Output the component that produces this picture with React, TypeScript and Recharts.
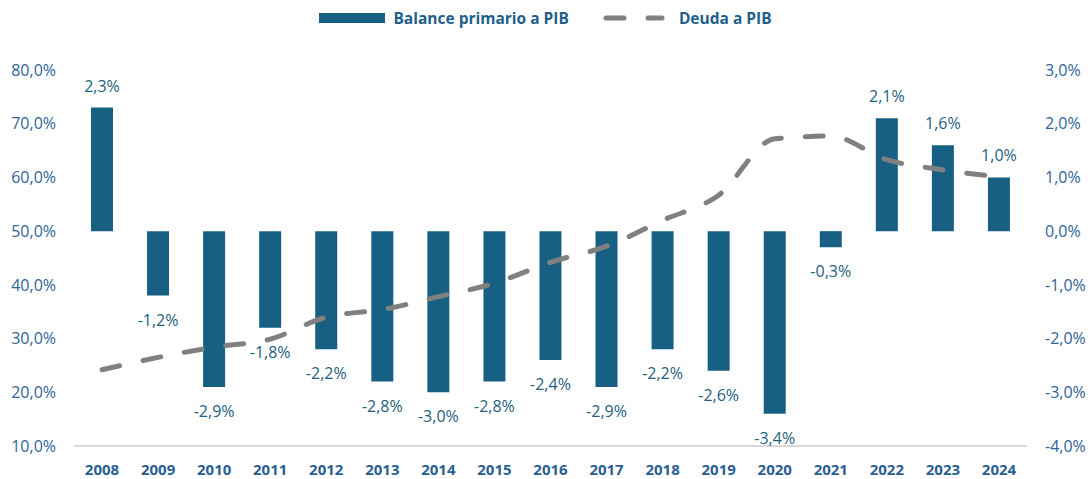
import {
  ComposedChart,
  Bar,
  Line,
  XAxis,
  YAxis,
  Legend,
  LabelList,
} from 'recharts';

// Balance primario y deuda (% del PIB), 2008-2024
const years = ['2008', '2009', '2010', '2011', '2012', '2013', '2014', '2015', '2016', '2017', '2018', '2019', '2020', '2021', '2022', '2023', '2024'];
const balancePrimario = [2.3, -1.2, -2.9, -1.8, -2.2, -2.8, -3.0, -2.8, -2.4, -2.9, -2.2, -2.6, -3.4, -0.3, 2.1, 1.6, 1.0];
const deuda = [24.2, 26.5, 28.4, 29.9, 34.0, 35.4, 37.8, 40.3, 44.2, 47.2, 52.0, 56.7, 67.2, 67.7, 63.3, 61.4, 60.1];
const leftTicks = [10, 20, 30, 40, 50, 60, 70, 80];
const rightTicks = [-4, -3, -2, -1, 0, 1, 2, 3];

const data = years.map((year, i) => ({
  year,
  balance: balancePrimario[i],
  deuda: deuda[i],
}));

const BAR_COLOR = '#176083';
const LINE_COLOR = '#808080';
const AXIS_TEXT = '#2F6498';
const LABEL_TEXT = '#1E5F7E';
const FONT = '"Open Sans", sans-serif';

const pct = (v: number) => `${v.toFixed(1).replace('.', ',')}%`;

function BarLabel(props: any) {
  const { x, y, width, height, value } = props;
  const top = Math.min(y, y + height);
  const bottom = Math.max(y, y + height);
  const cx = x + width / 2;
  const ty = value >= 0 ? top - 16 : bottom + 30;
  return (
    <text x={cx} y={ty} textAnchor="middle" fill={LABEL_TEXT} fontSize={16} fontFamily={FONT}>
      {pct(value)}
    </text>
  );
}

function LegendContent() {
  return (
    <div style={{ display: 'flex', justifyContent: 'center', alignItems: 'center', height: 24, fontFamily: FONT }}>
      <svg width={66} height={12} style={{ marginRight: 8 }}>
        <rect x={0} y={1} width={66} height={10} fill={BAR_COLOR} />
      </svg>
      <span style={{ color: '#1F5F8B', fontWeight: 700, fontSize: 15.5 }}>Balance primario a PIB</span>
      <svg width={62} height={12} style={{ marginLeft: 34, marginRight: 14 }}>
        <line x1={3} y1={6} x2={59} y2={6} stroke={LINE_COLOR} strokeWidth={5} strokeDasharray="18 24" strokeLinecap="round" />
      </svg>
      <span style={{ color: '#1F5F8B', fontWeight: 700, fontSize: 15.5 }}>Deuda a PIB</span>
    </div>
  );
}

export default function App() {
  return (
    <div style={{ position: 'absolute', left: 0, top: 0, background: '#fff' }}>
      <ComposedChart
        width={1091}
        height={479}
        data={data}
        margin={{ top: 46, right: 0, left: 0, bottom: 0 }}
      >
        <Legend verticalAlign="top" align="center" content={<LegendContent />} wrapperStyle={{ top: 6 }} />
        <XAxis
          dataKey="year"
          axisLine={{ stroke: '#d9d9d9', strokeWidth: 2 }}
          tickLine={false}
          tick={{ fill: '#2A5F93', fontSize: 15, fontWeight: 700, fontFamily: FONT }}
          tickMargin={12}
          height={33}
          interval={0}
        />
        <YAxis
          yAxisId="left"
          orientation="left"
          domain={[10, 80]}
          ticks={leftTicks}
          tickFormatter={pct}
          axisLine={false}
          tickLine={false}
          width={74}
          tickMargin={12}
          tick={{ fill: AXIS_TEXT, fontSize: 16, fontFamily: FONT }}
        />
        <YAxis
          yAxisId="right"
          orientation="right"
          domain={[-4, 3]}
          ticks={rightTicks}
          tickFormatter={pct}
          axisLine={false}
          tickLine={false}
          width={64}
          tickMargin={12}
          tick={{ fill: AXIS_TEXT, fontSize: 16, fontFamily: FONT, textAnchor: 'start' }}
        />
        <Bar yAxisId="right" dataKey="balance" fill={BAR_COLOR} barSize={22} isAnimationActive={false}>
          <LabelList dataKey="balance" content={<BarLabel />} />
        </Bar>
        <Line
          yAxisId="left"
          type="monotone"
          dataKey="deuda"
          stroke={LINE_COLOR}
          strokeWidth={5}
          strokeDasharray="18 24"
          strokeLinecap="round"
          dot={false}
          activeDot={false}
          isAnimationActive={false}
        />
      </ComposedChart>
    </div>
  );
}
